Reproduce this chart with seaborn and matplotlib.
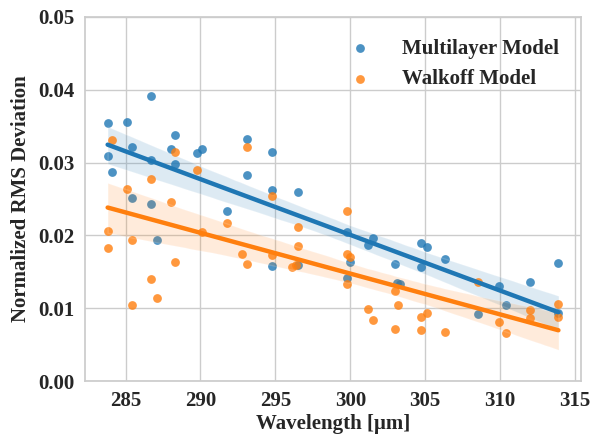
import numpy as np
import pandas as pd
import matplotlib
matplotlib.use("Agg")
import matplotlib.pyplot as plt
import seaborn as sns

# Wavelength [um] and normalized RMS deviation for each model
multilayer_wl = [283.8, 283.8, 284.1, 285.1, 285.4, 285.4, 286.7, 286.7, 286.7, 287.1,
                 288.0, 288.3, 288.3, 289.8, 290.1, 291.8, 293.1, 293.1, 294.8, 294.8,
                 294.8, 296.5, 296.5, 299.8, 299.8, 300.0, 301.2, 301.5, 303.0, 303.1,
                 303.3, 304.7, 304.7, 305.1, 306.3, 308.5, 309.9, 310.4, 312.0, 313.9,
                 313.9]
multilayer_rms = [0.0354, 0.0309, 0.0287, 0.0356, 0.0321, 0.0252, 0.0391, 0.0304, 0.0243, 0.0193,
                  0.0318, 0.0338, 0.0298, 0.0313, 0.0318, 0.0234, 0.0332, 0.0283, 0.0314, 0.0263,
                  0.0158, 0.0259, 0.0159, 0.0205, 0.0142, 0.0163, 0.0187, 0.0196, 0.0161, 0.0134,
                  0.0133, 0.0189, 0.0157, 0.0184, 0.0167, 0.0092, 0.0131, 0.0104, 0.0136, 0.0162,
                  0.0093]

walkoff_wl = [283.8, 283.8, 284.1, 285.1, 285.4, 285.4, 286.7, 286.7, 287.1, 288.0,
              288.3, 288.3, 289.8, 290.1, 291.8, 292.8, 293.1, 293.1, 294.8, 294.8,
              296.1, 296.4, 296.5, 296.5, 299.8, 299.8, 300.0, 299.8, 301.2, 301.5,
              303.0, 303.2, 303.0, 304.7, 305.1, 304.7, 306.3, 308.5, 309.9, 310.4,
              312.0, 312.0, 313.9, 313.9]
walkoff_rms = [0.0206, 0.0183, 0.0331, 0.0264, 0.0194, 0.0104, 0.0277, 0.0140, 0.0114, 0.0246,
               0.0314, 0.0163, 0.0290, 0.0205, 0.0217, 0.0174, 0.0321, 0.0161, 0.0254, 0.0173,
               0.0157, 0.0159, 0.0211, 0.0186, 0.0233, 0.0174, 0.0170, 0.0133, 0.0099, 0.0084,
               0.0123, 0.0104, 0.0071, 0.0088, 0.0093, 0.0070, 0.0067, 0.0136, 0.0081, 0.0066,
               0.0098, 0.0086, 0.0106, 0.0088]

series_labels = ["Multilayer Model", "Walkoff Model"]

sns.set_theme(style="whitegrid")
plt.rcParams["font.family"] = ["Liberation Serif", "DejaVu Serif"]
plt.rcParams["font.weight"] = "bold"

fig, ax = plt.subplots(figsize=(5.91, 4.34), dpi=100)
fig.subplots_adjust(left=0.144, right=0.983, top=0.961, bottom=0.122)

colors = ["#1f77b4", "#ff7f0e"]
for wl, rms, lab, col in zip([multilayer_wl, walkoff_wl], [multilayer_rms, walkoff_rms],
                             series_labels, colors):
    df = pd.DataFrame({"wl": wl, "rms": rms})
    sns.regplot(data=df, x="wl", y="rms", ax=ax, color=col, label=lab, seed=0,
                scatter_kws={"s": 40, "alpha": 0.8, "linewidths": 0},
                line_kws={"lw": 3.2})

ax.set_ylim(0, 0.05)
ax.set_xticks([285, 290, 295, 300, 305, 310, 315])
ax.set_yticks([0.0, 0.01, 0.02, 0.03, 0.04, 0.05])
ax.set_yticklabels(["0.00", "0.01", "0.02", "0.03", "0.04", "0.05"])
ax.set_xlabel("Wavelength [\u03bcm]", fontsize=15, fontweight="bold", labelpad=2)
ax.set_ylabel("Normalized RMS Deviation", fontsize=15, fontweight="bold", labelpad=5)
ax.tick_params(axis="both", labelsize=15, pad=1.5)
for t in ax.get_xticklabels() + ax.get_yticklabels():
    t.set_fontweight("bold")

leg = ax.legend(loc="upper right", bbox_to_anchor=(0.985, 0.98), frameon=False,
                fontsize=15, markerscale=1.0, handletextpad=1.0, borderaxespad=0.3,
                labelspacing=0.5)
for t in leg.get_texts():
    t.set_fontweight("bold")

fig.savefig("out.png", dpi=100)
